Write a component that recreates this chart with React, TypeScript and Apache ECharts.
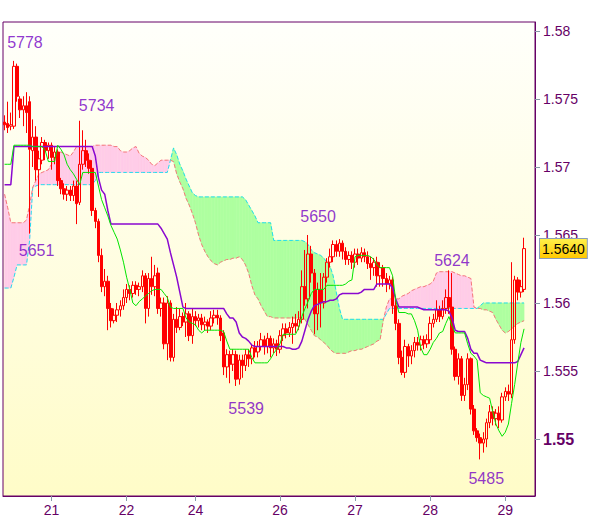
import React, { useEffect, useRef } from "react";
import * as echarts from "echarts";

// ---- data ----
const barCount = 170;
const categories = Array.from({ length: barCount }, (_, i) => String(i));
const dayLabels: [number, string][] = [
  [15, "21"], [39, "22"], [61, "24"], [88, "26"], [112, "27"], [136, "28"], [160, "29"],
];
const yTicks = [1.55, 1.555, 1.56, 1.565, 1.57, 1.575, 1.58];
const yMin = 1.54581;
const yMax = 1.58066;
const lastPrice = 1.564;

// [open, close, low, high]
const candles = [
  [1.5733, 1.5731, 1.5727, 1.5738], [1.5732, 1.5729, 1.5725, 1.5748], [1.5730, 1.5731, 1.5727, 1.5740], [1.5730, 1.5774, 1.5728, 1.5778], [1.5774, 1.5752, 1.5748, 1.5776],
  [1.5750, 1.5742, 1.5736, 1.5752], [1.5742, 1.5745, 1.5730, 1.5752], [1.5745, 1.5740, 1.5725, 1.5755], [1.5748, 1.5713, 1.5651, 1.5752], [1.5712, 1.5722, 1.5700, 1.5735],
  [1.5722, 1.5698, 1.5690, 1.5730], [1.5698, 1.5706, 1.5678, 1.5712], [1.5705, 1.5718, 1.5702, 1.5722], [1.5718, 1.5712, 1.5705, 1.5720], [1.5712, 1.5716, 1.5706, 1.5718],
  [1.5716, 1.5707, 1.5698, 1.5718], [1.5707, 1.5711, 1.5702, 1.5715], [1.5711, 1.5690, 1.5686, 1.5713], [1.5690, 1.5684, 1.5680, 1.5692], [1.5684, 1.5680, 1.5676, 1.5688],
  [1.5680, 1.5683, 1.5675, 1.5686], [1.5683, 1.5679, 1.5675, 1.5686], [1.5679, 1.5686, 1.5675, 1.5690], [1.5686, 1.5673, 1.5658, 1.5690], [1.5674, 1.5702, 1.5672, 1.5734],
  [1.5702, 1.5712, 1.5698, 1.5727], [1.5712, 1.5705, 1.5700, 1.5720], [1.5705, 1.5699, 1.5695, 1.5710], [1.5699, 1.5668, 1.5664, 1.5705], [1.5668, 1.5660, 1.5655, 1.5670],
  [1.5660, 1.5635, 1.5630, 1.5662], [1.5635, 1.5612, 1.5608, 1.5640], [1.5612, 1.5616, 1.5605, 1.5625], [1.5616, 1.5596, 1.5580, 1.5620], [1.5596, 1.5587, 1.5582, 1.5600],
  [1.5587, 1.5591, 1.5585, 1.5596], [1.5591, 1.5595, 1.5586, 1.5600], [1.5595, 1.5598, 1.5590, 1.5602], [1.5598, 1.5604, 1.5595, 1.5610], [1.5604, 1.5610, 1.5600, 1.5614],
  [1.5610, 1.5607, 1.5602, 1.5613], [1.5607, 1.5613, 1.5604, 1.5616], [1.5613, 1.5610, 1.5606, 1.5616], [1.5610, 1.5612, 1.5605, 1.5615], [1.5612, 1.5620, 1.5608, 1.5624],
  [1.5620, 1.5596, 1.5585, 1.5622], [1.5596, 1.5618, 1.5590, 1.5622], [1.5618, 1.5612, 1.5606, 1.5634], [1.5612, 1.5620, 1.5605, 1.5628], [1.5622, 1.5596, 1.5592, 1.5626],
  [1.5596, 1.5600, 1.5590, 1.5604], [1.5600, 1.5570, 1.5566, 1.5604], [1.5570, 1.5600, 1.5558, 1.5605], [1.5600, 1.5560, 1.5557, 1.5602], [1.5560, 1.5588, 1.5557, 1.5592],
  [1.5588, 1.5582, 1.5578, 1.5597], [1.5582, 1.5590, 1.5580, 1.5596], [1.5590, 1.5586, 1.5583, 1.5593], [1.5586, 1.5592, 1.5575, 1.5600], [1.5592, 1.5576, 1.5572, 1.5594],
  [1.5576, 1.5590, 1.5570, 1.5596], [1.5590, 1.5587, 1.5583, 1.5594], [1.5587, 1.5589, 1.5582, 1.5592], [1.5589, 1.5584, 1.5580, 1.5592], [1.5584, 1.5586, 1.5580, 1.5590],
  [1.5586, 1.5583, 1.5578, 1.5588], [1.5583, 1.5589, 1.5580, 1.5594], [1.5589, 1.5591, 1.5585, 1.5595], [1.5591, 1.5589, 1.5584, 1.5595], [1.5589, 1.5576, 1.5572, 1.5591],
  [1.5578, 1.5553, 1.5547, 1.5580], [1.5553, 1.5562, 1.5545, 1.5566], [1.5562, 1.5555, 1.5541, 1.5565], [1.5555, 1.5562, 1.5550, 1.5566], [1.5562, 1.5544, 1.5539, 1.5565],
  [1.5544, 1.5558, 1.5540, 1.5562], [1.5558, 1.5554, 1.5545, 1.5562], [1.5554, 1.5562, 1.5550, 1.5566], [1.5562, 1.5559, 1.5553, 1.5566], [1.5559, 1.5567, 1.5555, 1.5570],
  [1.5567, 1.5564, 1.5560, 1.5572], [1.5564, 1.5568, 1.5560, 1.5572], [1.5568, 1.5573, 1.5565, 1.5578], [1.5573, 1.5568, 1.5562, 1.5576], [1.5568, 1.5574, 1.5563, 1.5578],
  [1.5574, 1.5567, 1.5560, 1.5576], [1.5567, 1.5570, 1.5563, 1.5574], [1.5570, 1.5566, 1.5561, 1.5573], [1.5566, 1.5576, 1.5563, 1.5580], [1.5576, 1.5581, 1.5572, 1.5585],
  [1.5581, 1.5578, 1.5574, 1.5585], [1.5578, 1.5582, 1.5575, 1.5586], [1.5582, 1.5585, 1.5570, 1.5590], [1.5585, 1.5583, 1.5578, 1.5592], [1.5583, 1.5588, 1.5580, 1.5594],
  [1.5588, 1.5612, 1.5585, 1.5624], [1.5612, 1.5603, 1.5598, 1.5639], [1.5603, 1.5636, 1.5596, 1.5650], [1.5636, 1.5622, 1.5615, 1.5642], [1.5622, 1.5592, 1.5577, 1.5625],
  [1.5592, 1.5610, 1.5580, 1.5615], [1.5610, 1.5600, 1.5582, 1.5622], [1.5600, 1.5619, 1.5596, 1.5622], [1.5619, 1.5630, 1.5615, 1.5633], [1.5630, 1.5634, 1.5626, 1.5640],
  [1.5634, 1.5643, 1.5630, 1.5646], [1.5643, 1.5638, 1.5634, 1.5646], [1.5638, 1.5644, 1.5634, 1.5647], [1.5644, 1.5638, 1.5632, 1.5646], [1.5638, 1.5632, 1.5628, 1.5641],
  [1.5632, 1.5635, 1.5628, 1.5638], [1.5635, 1.5630, 1.5625, 1.5638], [1.5630, 1.5636, 1.5626, 1.5640], [1.5636, 1.5633, 1.5628, 1.5640], [1.5633, 1.5637, 1.5630, 1.5641],
  [1.5637, 1.5634, 1.5630, 1.5640], [1.5634, 1.5629, 1.5625, 1.5638], [1.5629, 1.5626, 1.5617, 1.5634], [1.5626, 1.5630, 1.5620, 1.5633], [1.5630, 1.5620, 1.5612, 1.5634],
  [1.5620, 1.5626, 1.5612, 1.5630], [1.5626, 1.5618, 1.5612, 1.5628], [1.5618, 1.5614, 1.5608, 1.5622], [1.5614, 1.5617, 1.5610, 1.5620], [1.5617, 1.5598, 1.5592, 1.5619],
  [1.5598, 1.5585, 1.5580, 1.5605], [1.5585, 1.5560, 1.5555, 1.5588], [1.5560, 1.5549, 1.5547, 1.5565], [1.5549, 1.5568, 1.5545, 1.5573], [1.5568, 1.5561, 1.5553, 1.5570],
  [1.5561, 1.5565, 1.5555, 1.5569], [1.5565, 1.5571, 1.5560, 1.5575], [1.5571, 1.5569, 1.5565, 1.5575], [1.5569, 1.5573, 1.5565, 1.5576], [1.5573, 1.5570, 1.5566, 1.5576],
  [1.5570, 1.5573, 1.5567, 1.5577], [1.5573, 1.5585, 1.5570, 1.5590], [1.5585, 1.5588, 1.5582, 1.5592], [1.5588, 1.5595, 1.5586, 1.5602], [1.5595, 1.5590, 1.5586, 1.5598],
  [1.5590, 1.5596, 1.5588, 1.5602], [1.5596, 1.5604, 1.5592, 1.5610], [1.5604, 1.5597, 1.5592, 1.5624], [1.5597, 1.5566, 1.5562, 1.5622], [1.5566, 1.5546, 1.5543, 1.5568],
  [1.5546, 1.5559, 1.5540, 1.5563], [1.5559, 1.5532, 1.5528, 1.5561], [1.5532, 1.5540, 1.5528, 1.5545], [1.5540, 1.5559, 1.5536, 1.5563], [1.5559, 1.5522, 1.5518, 1.5560],
  [1.5522, 1.5506, 1.5503, 1.5525], [1.5506, 1.5501, 1.5498, 1.5508], [1.5501, 1.5497, 1.5485, 1.5504], [1.5497, 1.5500, 1.5490, 1.5505], [1.5500, 1.5512, 1.5494, 1.5515],
  [1.5512, 1.5520, 1.5508, 1.5525], [1.5520, 1.5515, 1.5510, 1.5524], [1.5515, 1.5519, 1.5510, 1.5522], [1.5519, 1.5514, 1.5508, 1.5524], [1.5514, 1.5531, 1.5512, 1.5534],
  [1.5531, 1.5535, 1.5528, 1.5538], [1.5535, 1.5533, 1.5528, 1.5540], [1.5533, 1.5573, 1.5530, 1.5630], [1.5573, 1.5617, 1.5570, 1.5620], [1.5617, 1.5608, 1.5602, 1.5619],
  [1.5608, 1.5612, 1.5604, 1.5617], [1.5610, 1.5640, 1.5608, 1.5648],
];

const tenkan = [
  1.5702, 1.5702, 1.5702, 1.5716, 1.5716, 1.5716, 1.5716, 1.5716, 1.5716, 1.5715,
  1.5715, 1.5715, 1.5715, 1.5712, 1.5704, 1.5704, 1.5704, 1.5716, 1.5713, 1.5709,
  1.5702, 1.5698, 1.5695, 1.5691, 1.5687, 1.5696, 1.5696, 1.5696, 1.5696, 1.5696,
  1.5686, 1.5676, 1.5670, 1.5664, 1.5657, 1.5652, 1.5647, 1.5639, 1.5630, 1.5619,
  1.5610, 1.5600, 1.5598, 1.5601, 1.5603, 1.5605, 1.5607, 1.5609, 1.5610, 1.5610,
  1.5610, 1.5607, 1.5604, 1.5597, 1.5596, 1.5596, 1.5596, 1.5596, 1.5589, 1.5586,
  1.5585, 1.5584, 1.5580, 1.5578, 1.5580, 1.5580, 1.5580, 1.5580, 1.5580, 1.5580,
  1.5579, 1.5572, 1.5566, 1.5566, 1.5566, 1.5566, 1.5566, 1.5566, 1.5566, 1.5560,
  1.5556, 1.5556, 1.5556, 1.5556, 1.5556, 1.5559, 1.5563, 1.5566, 1.5570, 1.5577,
  1.5577, 1.5577, 1.5577, 1.5577, 1.5582, 1.5590, 1.5596, 1.5601, 1.5607, 1.5610,
  1.5610, 1.5610, 1.5610, 1.5613, 1.5613, 1.5613, 1.5613, 1.5613, 1.5613, 1.5614,
  1.5616, 1.5617, 1.5634, 1.5635, 1.5635, 1.5635, 1.5635, 1.5634, 1.5632, 1.5628,
  1.5626, 1.5626, 1.5626, 1.5626, 1.5620, 1.5602, 1.5593, 1.5593, 1.5593, 1.5592,
  1.5592, 1.5587, 1.5580, 1.5567, 1.5562, 1.5562, 1.5566, 1.5571, 1.5574, 1.5578,
  1.5579, 1.5585, 1.5590, 1.5583, 1.5578, 1.5578, 1.5578, 1.5578, 1.5570, 1.5563,
  1.5561, 1.5558, 1.5534, 1.5532, 1.5531, 1.5530, 1.5520, 1.5511, 1.5506, 1.5502,
  1.5505, 1.5511, 1.5526, 1.5540, 1.5556, 1.5571, 1.5581,
];

const kijun = [
  1.5687, 1.5687, 1.5687, 1.5715, 1.5715, 1.5715, 1.5715, 1.5715, 1.5715, 1.5715,
  1.5715, 1.5715, 1.5715, 1.5715, 1.5715, 1.5715, 1.5715, 1.5715, 1.5715, 1.5715,
  1.5715, 1.5715, 1.5715, 1.5715, 1.5715, 1.5715, 1.5715, 1.5715, 1.5715, 1.5708,
  1.5692, 1.5683, 1.5680, 1.5668, 1.5658, 1.5658, 1.5658, 1.5658, 1.5658, 1.5658,
  1.5658, 1.5658, 1.5658, 1.5658, 1.5658, 1.5658, 1.5658, 1.5658, 1.5658, 1.5658,
  1.5655, 1.5651, 1.5647, 1.5637, 1.5628, 1.5619, 1.5608, 1.5597, 1.5596, 1.5596,
  1.5596, 1.5596, 1.5596, 1.5596, 1.5596, 1.5596, 1.5596, 1.5596, 1.5596, 1.5596,
  1.5596, 1.5592, 1.5589, 1.5589, 1.5586, 1.5578, 1.5575, 1.5574, 1.5572, 1.5569,
  1.5568, 1.5568, 1.5568, 1.5568, 1.5568, 1.5568, 1.5568, 1.5568, 1.5568, 1.5568,
  1.5567, 1.5567, 1.5566, 1.5566, 1.5567, 1.5572, 1.5580, 1.5588, 1.5594, 1.5598,
  1.5599, 1.5600, 1.5601, 1.5601, 1.5602, 1.5602, 1.5603, 1.5606, 1.5607, 1.5607,
  1.5607, 1.5607, 1.5607, 1.5607, 1.5608, 1.5610, 1.5610, 1.5610, 1.5610, 1.5614,
  1.5614, 1.5614, 1.5614, 1.5614, 1.5611, 1.5603, 1.5597, 1.5597, 1.5597, 1.5597,
  1.5597, 1.5597, 1.5597, 1.5596, 1.5595, 1.5595, 1.5595, 1.5595, 1.5595, 1.5595,
  1.5595, 1.5595, 1.5594, 1.5589, 1.5580, 1.5579, 1.5579, 1.5579, 1.5574, 1.5566,
  1.5563, 1.5563, 1.5558, 1.5557, 1.5556, 1.5556, 1.5556, 1.5556, 1.5556, 1.5556,
  1.5556, 1.5556, 1.5556, 1.5556, 1.5557, 1.5562, 1.5567,
];

// leading span A (cyan dashed)
const spanA = [
  1.5611, 1.5611, 1.5611, 1.5619, 1.5628, 1.5628, 1.5628, 1.5628, 1.5646, 1.5685,
  1.5686, 1.5687, 1.5687, 1.5687, 1.5687, 1.5687, 1.5687, 1.5687, 1.5687, 1.5687,
  1.5687, 1.5687, 1.5687, 1.5687, 1.5687, 1.5687, 1.5687, 1.5687, 1.5687, 1.5690,
  1.5696, 1.5696, 1.5696, 1.5696, 1.5696, 1.5696, 1.5696, 1.5696, 1.5696, 1.5696,
  1.5696, 1.5696, 1.5696, 1.5696, 1.5696, 1.5696, 1.5696, 1.5696, 1.5696, 1.5696,
  1.5696, 1.5696, 1.5696, 1.5705, 1.5714, 1.5709, 1.5702, 1.5697, 1.5691, 1.5686,
  1.5681, 1.5679, 1.5678, 1.5678, 1.5678, 1.5678, 1.5678, 1.5678, 1.5678, 1.5678,
  1.5678, 1.5678, 1.5678, 1.5678, 1.5678, 1.5678, 1.5678, 1.5676, 1.5672, 1.5668,
  1.5664, 1.5659, 1.5659, 1.5659, 1.5659, 1.5659, 1.5646, 1.5646, 1.5646, 1.5646,
  1.5646, 1.5646, 1.5646, 1.5646, 1.5646, 1.5646, 1.5645, 1.5643, 1.5639, 1.5637,
  1.5636, 1.5635, 1.5633, 1.5630, 1.5627, 1.5620, 1.5608, 1.5596, 1.5588, 1.5588,
  1.5588, 1.5588, 1.5588, 1.5588, 1.5588, 1.5588, 1.5588, 1.5588, 1.5588, 1.5588,
  1.5588, 1.5588, 1.5592, 1.5596, 1.5596, 1.5596, 1.5596, 1.5596, 1.5596, 1.5596,
  1.5596, 1.5596, 1.5596, 1.5596, 1.5596, 1.5596, 1.5596, 1.5596, 1.5596, 1.5596,
  1.5596, 1.5596, 1.5596, 1.5596, 1.5596, 1.5596, 1.5596, 1.5596, 1.5596, 1.5596,
  1.5596, 1.5596, 1.5598, 1.5600, 1.5600, 1.5600, 1.5600, 1.5600, 1.5600, 1.5600,
  1.5600, 1.5600, 1.5600, 1.5600, 1.5600, 1.5600, 1.5600,
];

// leading span B (salmon dashed)
const spanB = [
  1.5680, 1.5670, 1.5659, 1.5659, 1.5659, 1.5659, 1.5659, 1.5661, 1.5672, 1.5685,
  1.5690, 1.5695, 1.5696, 1.5697, 1.5698, 1.5702, 1.5708, 1.5710, 1.5711, 1.5710,
  1.5709, 1.5708, 1.5711, 1.5715, 1.5715, 1.5715, 1.5715, 1.5715, 1.5715, 1.5716,
  1.5716, 1.5716, 1.5716, 1.5716, 1.5716, 1.5715, 1.5715, 1.5712, 1.5711, 1.5711,
  1.5712, 1.5714, 1.5715, 1.5710, 1.5708, 1.5707, 1.5705, 1.5702, 1.5701, 1.5703,
  1.5705, 1.5705, 1.5705, 1.5705, 1.5704, 1.5695, 1.5689, 1.5684, 1.5677, 1.5672,
  1.5666, 1.5659, 1.5650, 1.5643, 1.5638, 1.5634, 1.5631, 1.5629, 1.5628, 1.5630,
  1.5631, 1.5632, 1.5632, 1.5633, 1.5633, 1.5634, 1.5632, 1.5628, 1.5622, 1.5613,
  1.5606, 1.5603, 1.5598, 1.5594, 1.5590, 1.5590, 1.5589, 1.5589, 1.5589, 1.5589,
  1.5589, 1.5589, 1.5589, 1.5589, 1.5589, 1.5589, 1.5588, 1.5584, 1.5580, 1.5576,
  1.5575, 1.5573, 1.5571, 1.5569, 1.5566, 1.5564, 1.5563, 1.5563, 1.5563, 1.5563,
  1.5564, 1.5565, 1.5565, 1.5566, 1.5566, 1.5567, 1.5568, 1.5569, 1.5570, 1.5572,
  1.5573, 1.5587, 1.5597, 1.5603, 1.5603, 1.5603, 1.5603, 1.5605, 1.5606, 1.5607,
  1.5609, 1.5610, 1.5611, 1.5612, 1.5612, 1.5613, 1.5614, 1.5616, 1.5622, 1.5623,
  1.5623, 1.5623, 1.5623, 1.5623, 1.5622, 1.5621, 1.5620, 1.5620, 1.5619, 1.5618,
  1.5597, 1.5596, 1.5596, 1.5595, 1.5595, 1.5594, 1.5593, 1.5588, 1.5584, 1.5580,
  1.5578, 1.5579, 1.5581, 1.5583, 1.5585, 1.5586, 1.5587,
];

// swing annotations: label, bar index, price
const pivotLabels = ["5778", "5734", "5651", "5650", "5539", "5624", "5485"];
const pivotBars = [3, 24, 8, 97, 74, 142, 152];
const pivotValues = [1.5778, 1.5734, 1.5651, 1.565, 1.5539, 1.5624, 1.5485];

// ---- styling ----
const FONT = "'Liberation Sans', Arial, sans-serif";
const AXIS_TEXT = "#660066";
const PINK = "#ffcce8";
const GREEN = "#aeffa0";
const pivotOffsets = [[11, -18], [17, -15], [7, 17], [10, -18], [10, 23], [3, -10], [6, 19]];

export default function App() {
  const ref = useRef<HTMLDivElement>(null);

  useEffect(() => {
    if (!ref.current) return;
    const chart = echarts.init(ref.current, undefined, { renderer: "svg" });
    const dayMap: Record<number, string> = {};
    dayLabels.forEach(([i, t]) => (dayMap[i] = t));
    const isDay = (i: number) => dayMap[i] !== undefined;

    const cloudRender = (_params: any, api: any) => {
      const i = api.value(0) as number;
      if (i >= spanA.length - 1) return null;
      const a0 = spanA[i], b0 = spanB[i], a1 = spanA[i + 1], b1 = spanB[i + 1];
      const pa0 = api.coord([i, a0]);
      const pb0 = api.coord([i, b0]);
      const pa1 = api.coord([i + 1, a1]);
      const pb1 = api.coord([i + 1, b1]);
      const d0 = a0 - b0;
      const d1 = a1 - b1;
      const poly = (pts: number[][], up: boolean) => ({
        type: "polygon",
        shape: { points: pts },
        style: { fill: up ? GREEN : PINK, stroke: up ? GREEN : PINK, lineWidth: 0.6 },
      });
      const children: any[] = [];
      if (d0 * d1 >= 0) {
        children.push(poly([pa0, pa1, pb1, pb0], d0 + d1 >= 0));
      } else {
        const t = d0 / (d0 - d1);
        const c = [pa0[0] + t * (pa1[0] - pa0[0]), pa0[1] + t * (pa1[1] - pa0[1])];
        children.push(poly([pa0, c, pb0], d0 > 0));
        children.push(poly([c, pa1, pb1], d1 > 0));
      }
      return { type: "group", children };
    };

    const bgGradient = new echarts.graphic.LinearGradient(0, 0, 0, 1, [
      { offset: 0, color: "#fffffb" },
      { offset: 1, color: "#fffcc8" },
    ]);
    const tagGradient = new echarts.graphic.LinearGradient(0, 0, 0, 1, [
      { offset: 0, color: "#fff04a" },
      { offset: 1, color: "#ffc800" },
    ]);

    chart.setOption({
      animation: false,
      grid: {
        left: 3,
        top: 22,
        right: 65,
        bottom: 23,
        show: true,
        backgroundColor: bgGradient,
        borderColor: "#660066",
        borderWidth: 1,
      },
      xAxis: {
        type: "category",
        data: categories,
        boundaryGap: true,
        axisLine: { show: true, lineStyle: { color: "#660066", width: 1 } },
        axisTick: {
          show: true,
          alignWithLabel: true,
          interval: (i: number) => isDay(i),
          length: 5,
          lineStyle: { color: "#8898a8" },
        },
        axisLabel: {
          interval: (i: number) => isDay(i),
          formatter: (_v: string, i: number) => dayMap[i] ?? "",
          color: AXIS_TEXT,
          fontSize: 14,
          fontFamily: FONT,
          margin: 7,
        },
        splitLine: { show: false },
      },
      yAxis: {
        type: "value",
        position: "right",
        min: yMin,
        max: yMax,
        splitLine: { show: false },
        axisLine: { show: true, lineStyle: { color: "#660066", width: 1 } },
        axisTick: {
          show: true,
          length: 5,
          customValues: yTicks,
          lineStyle: { color: "#8898a8" },
        },
        axisLabel: {
          customValues: yTicks,
          margin: 8,
          color: AXIS_TEXT,
          fontSize: 14,
          fontFamily: FONT,
          formatter: (v: number) => (Math.abs(v - 1.55) < 1e-9 ? "{b|1.55}" : String(+v.toFixed(3))),
          rich: {
            b: { fontWeight: "bold", fontSize: 16, color: AXIS_TEXT, fontFamily: FONT },
          },
        },
      },
      series: [
        {
          type: "custom",
          name: "cloud",
          renderItem: cloudRender,
          data: spanA.map((v, i) => [i, v]),
          encode: { x: 0, y: 1 },
          clip: true,
          silent: true,
          z: 1,
        },
        {
          type: "line",
          name: "spanA",
          data: spanA,
          symbol: "none",
          lineStyle: { color: "#22dded", width: 1, type: [4, 2] },
          silent: true,
          z: 2,
        },
        {
          type: "line",
          name: "spanB",
          data: spanB,
          symbol: "none",
          lineStyle: { color: "#f47878", width: 1, type: [4, 2] },
          silent: true,
          z: 2,
        },
        {
          type: "candlestick",
          name: "price",
          data: candles,
          barWidth: 3,
          itemStyle: {
            color: "rgba(0,0,0,0)",
            color0: "#ff0000",
            borderColor: "#ff0000",
            borderColor0: "#ff0000",
            borderWidth: 1,
          },
          z: 3,
        },
        {
          type: "line",
          name: "kijun",
          data: kijun,
          symbol: "none",
          lineStyle: { color: "#8a08d0", width: 1.5 },
          silent: true,
          z: 4,
        },
        {
          type: "line",
          name: "tenkan",
          data: tenkan,
          symbol: "none",
          lineStyle: { color: "#00e400", width: 1 },
          silent: true,
          z: 5,
          markLine: {
            silent: true,
            symbol: "none",
            precision: 4,
            lineStyle: { color: "rgba(0,0,0,0)", width: 0 },
            data: [{ yAxis: lastPrice }],
            label: {
              show: true,
              position: "end",
              distance: 5,
              formatter: lastPrice.toFixed(4),
              color: "#000000",
              fontSize: 14,
              fontFamily: FONT,
              backgroundColor: tagGradient,
              borderColor: "#8a9cba",
              borderWidth: 1,
              padding: [3, 2, 2, 2],
            },
          },
        },
        {
          type: "scatter",
          name: "pivots",
          symbolSize: 0,
          silent: true,
          z: 6,
          data: pivotLabels.map((t, k) => ({
            value: [pivotBars[k], pivotValues[k]],
            name: t,
            label: { offset: pivotOffsets[k] },
          })),
          label: {
            show: true,
            position: "inside",
            formatter: (p: any) => p.name,
            color: "#7400c4",
            fontSize: 16,
            fontFamily: FONT,
          },
        },
      ],
    });

    return () => chart.dispose();
  }, []);

  return (
    <div
      ref={ref}
      style={{ position: "fixed", left: 0, top: 0, width: 600, height: 519, background: "#ffffff" }}
    />
  );
}
